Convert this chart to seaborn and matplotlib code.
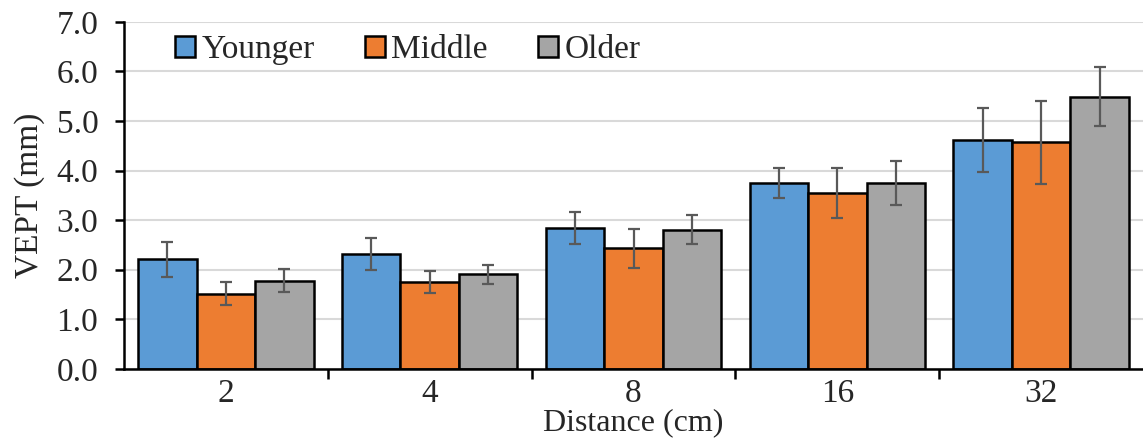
import numpy as np
import pandas as pd
import seaborn as sns
import matplotlib.pyplot as plt
from matplotlib.ticker import FixedLocator, MultipleLocator, FormatStrFormatter

# Datos
distancias = ["2", "4", "8", "16", "32"]
grupos = ["Younger", "Middle", "Older"]
younger = [2.21, 2.31, 2.84, 3.75, 4.62]
middle = [1.52, 1.76, 2.43, 3.55, 4.57]
older = [1.78, 1.91, 2.81, 3.75, 5.49]
younger_err = [0.35, 0.32, 0.32, 0.31, 0.65]
middle_err = [0.24, 0.22, 0.39, 0.51, 0.84]
older_err = [0.23, 0.19, 0.30, 0.45, 0.59]
colores = ["#5B9BD5", "#ED7D31", "#A5A5A5"]

valores = [younger, middle, older]
errores = [younger_err, middle_err, older_err]

df = pd.DataFrame({
    "Distance": np.tile(distancias, len(grupos)),
    "Grupo": np.repeat(grupos, len(distancias)),
    "VEPT": np.concatenate(valores),
})

sns.set_style("white")
plt.rcParams["font.family"] = ["Liberation Serif", "DejaVu Serif"]
fs = 24

fig = plt.figure(figsize=(11.43, 4.45), dpi=100)
ax = fig.add_axes([0.1085, 0.171, 0.8915, 0.78])

sns.barplot(data=df, x="Distance", y="VEPT", hue="Grupo", order=distancias,
            hue_order=grupos, palette=colores, errorbar=None, width=0.86,
            edgecolor="black", linewidth=1.8, saturation=1, ax=ax, zorder=3)

# Barras de error
for cont, err in zip(ax.containers, errores):
    xs = [b.get_x() + b.get_width() / 2 for b in cont]
    hs = [b.get_height() for b in cont]
    ax.errorbar(xs, hs, yerr=err, fmt="none", ecolor="#595959",
                elinewidth=1.6, capsize=4, capthick=1.6, zorder=4)

# Ejes
ax.set_ylim(0, 7)
ax.set_xlim(-0.5, 4.5)
ax.yaxis.set_major_locator(MultipleLocator(1))
ax.yaxis.set_major_formatter(FormatStrFormatter("%.1f"))
ax.grid(axis="y", color="#d9d9d9", linewidth=1.5, zorder=0)
ax.set_axisbelow(True)
for s in ["top", "right"]:
    ax.spines[s].set_visible(False)
for s in ["left", "bottom"]:
    ax.spines[s].set_color("black")
    ax.spines[s].set_linewidth(1.8)
    ax.spines[s].set_zorder(5)

ax.xaxis.set_minor_locator(FixedLocator([0.5, 1.5, 2.5, 3.5]))
ax.tick_params(axis="x", which="major", length=0, labelsize=fs, pad=7)
ax.tick_params(axis="x", which="minor", length=7, width=1.8, color="black",
               direction="out", bottom=True)
ax.tick_params(axis="y", length=6.5, width=1.8, color="black", direction="out",
               left=True, labelsize=fs, pad=12)

ax.set_xlabel("Distance (cm)", fontsize=23, labelpad=-1)
ax.set_ylabel("VEPT (mm)", fontsize=fs, labelpad=8)

ax.legend(loc="upper left", bbox_to_anchor=(0.03, 1.02), ncol=3, frameon=False,
          fontsize=fs, handlelength=0.6, handleheight=0.6, handletextpad=0.2,
          columnspacing=1.5, borderaxespad=0.2)

plt.savefig("out.png", dpi=100)
plt.close()
